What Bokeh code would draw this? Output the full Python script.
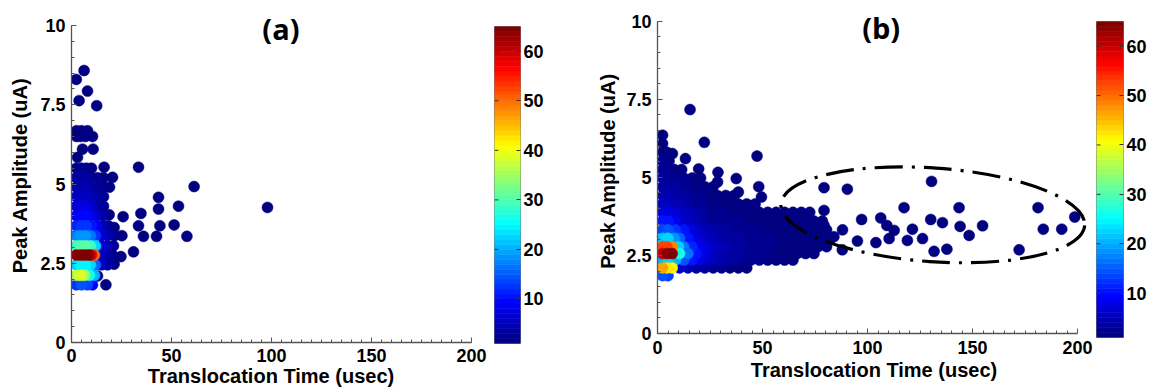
from bokeh.plotting import figure
from bokeh.models import (ColumnDataSource, LinearColorMapper, FixedTicker,
                          Range1d, Label, Spacer, Div)
from bokeh.layouts import row, column
from bokeh.embed import file_html
from bokeh.resources import INLINE

# ---------------- data: panel (a) ----------------
# dense core, row by row (amplitude level, times, local point density)
a_rows_y = [1.82, 2.12, 2.45, 2.76, 3.05, 3.37, 3.68, 4.0, 4.3, 4.6, 4.9, 5.2, 5.5]
a_rows_x = [
    [2.4, 5.0, 8.0, 10.5],
    [2.4, 4.5, 6.5, 9.0, 11.5],
    [2.4, 4.5, 7.0, 9.5, 12.0, 15.0, 18.0],
    [2.4, 4.5, 6.5, 8.5, 10.0, 11.5, 14.5, 17.5, 20.5],
    [2.4, 4.5, 7.0, 9.5, 12.0, 15.0, 18.0, 21.0],
    [2.4, 4.5, 7.0, 9.5, 12.0, 15.0, 18.0, 21.5],
    [2.4, 5.0, 7.5, 10.0, 12.5, 15.5, 18.5],
    [2.4, 5.0, 7.5, 10.0, 13.0, 16.0],
    [2.4, 5.0, 7.5, 10.0, 13.0, 16.0],
    [2.4, 5.0, 7.5, 10.0, 13.0, 16.0],
    [2.4, 5.0, 7.5, 10.0, 13.0, 16.0, 19.0],
    [2.4, 5.0, 7.5, 10.0, 13.0, 16.0],
    [2.4, 5.0, 7.5, 10.0],
]
a_rows_c = [
    [12, 14, 13, 9],
    [36, 38, 35, 26, 20],
    [22, 24, 24, 22, 15, 5, 3],
    [63, 65, 65, 64, 58, 50, 5, 3, 2],
    [28, 30, 30, 28, 22, 6, 4, 2],
    [17, 18, 18, 16, 12, 6, 4, 2],
    [11, 12, 12, 10, 8, 4, 2],
    [8, 9, 9, 7, 5, 3],
    [6, 7, 7, 5, 3, 2],
    [5, 5, 5, 4, 3, 2],
    [4, 4, 4, 3, 2, 2, 1],
    [3, 3, 3, 2, 2, 1],
    [2, 2, 2, 1],
]
# isolated events
a_sparse_x = [6.3, 2.4, 8.0, 3.8, 12.6, 2.5, 5.0, 8.0, 2.5, 4.5, 7.0, 10.5, 5.5, 10.8,
              3.0, 16.3, 33.5, 20.5, 61.3, 43.5, 53.5, 43.5, 98.0, 34.7, 25.8, 18.8,
              44.2, 51.3, 33.5, 36.0, 42.5, 57.7, 25.2, 21.3, 31.0, 24.7, 21.3, 17.2, 13.0]
a_sparse_y = [8.58, 8.30, 7.93, 7.63, 7.47, 6.68, 6.68, 6.68, 6.50, 6.50, 6.50, 6.50, 6.10, 6.10,
              5.84, 5.53, 5.53, 5.21, 4.92, 4.58, 4.30, 4.21, 4.26, 4.07, 3.97, 4.03,
              3.68, 3.71, 3.68, 3.35, 3.35, 3.35, 3.37, 3.63, 2.86, 2.71, 2.47, 1.82, 2.10]
a_sparse_c = [1, 1, 1, 1, 1, 1, 1, 1, 1, 1, 1, 1, 1, 1,
              1, 1, 1, 1, 1, 1, 1, 1, 1, 1, 1, 1,
              1, 1, 1, 1, 1, 1, 1, 1, 1, 1, 1, 1, 1]

# ---------------- data: panel (b) ----------------
b_rows_y = [1.85, 2.1, 2.35, 2.56, 2.78, 3.05, 3.32, 3.6, 3.88, 4.15, 4.42, 4.7,
            4.98, 5.25, 5.52, 5.8, 6.08, 6.35]
b_rows_x = [
    [2.4, 5.0],
    [2.4, 4.5, 7.0, 10.5, 14.5, 18.5, 22.5, 26.5, 30.5, 34.5, 38.5, 42.5],
    [2.4, 5.0, 8.5, 12.5, 16.5, 20.5, 24.5, 28.5, 32.5, 36.5, 40.5, 44.5, 48.5, 52.5,
     56.5, 60.5, 64.5],
    [2.4, 4.5, 7.0, 10.5, 14.5, 18.5, 22.5, 26.5, 30.5, 34.5, 38.5, 42.5, 46.5, 50.5,
     54.5, 58.5, 62.5, 66.5, 70.5, 74.5],
    [2.4, 4.5, 7.0, 10.0, 12.5, 16.5, 20.5, 24.5, 28.5, 32.5, 36.5, 40.5, 44.5, 48.5,
     52.5, 56.5, 60.5, 64.5, 68.5, 72.5, 76.5, 80.5],
    [2.4, 5.0, 8.0, 10.5, 14.5, 18.5, 22.5, 26.5, 30.5, 34.5, 38.5, 42.5, 46.5, 50.5,
     54.5, 58.5, 62.5, 66.5, 70.5, 74.5, 78.5, 82.5],
    [2.4, 5.0, 8.5, 12.5, 16.5, 20.5, 24.5, 28.5, 32.5, 36.5, 40.5, 44.5, 48.5, 52.5,
     56.5, 60.5, 64.5, 68.5, 72.5, 76.5, 80.5],
    [2.4, 5.0, 8.0, 10.5, 14.5, 18.5, 22.5, 26.5, 30.5, 34.5, 38.5, 42.5, 46.5, 50.5,
     54.5, 58.5, 62.5, 66.5, 70.5, 74.5, 78.5],
    [2.4, 5.0, 8.5, 12.5, 16.5, 20.5, 24.5, 28.5, 32.5, 36.5, 40.5, 44.5, 48.5, 52.5,
     56.5, 60.5, 64.5, 68.5, 72.5],
    [2.4, 5.0, 8.0, 10.5, 14.5, 18.5, 22.5, 26.5, 30.5, 34.5, 38.5, 42.5, 46.5],
    [2.4, 5.0, 8.5, 12.5, 16.5, 20.5, 24.5, 28.5, 32.5, 36.5],
    [2.4, 5.0, 8.0, 10.5, 14.5, 18.5, 22.5, 26.5],
    [2.4, 5.0, 8.5, 12.5, 16.5, 20.5],
    [2.4, 5.0, 8.0, 11.5],
    [2.4, 5.5],
    [2.4, 4.5],
    [2.4],
    [2.4],
]
b_rows_c = [
    [14, 13],
    [46, 42, 41, 6, 4, 3, 3, 2, 2, 1, 1, 1],
    [20, 22, 20, 14, 10, 7, 5, 4, 3, 3, 2, 2, 2, 1, 1, 1, 1],
    [60, 63, 65, 26, 16, 10, 7, 5, 4, 3, 3, 2, 2, 2, 1, 1, 1, 1, 1, 1],
    [52, 52, 48, 22, 16, 11, 8, 6, 5, 4, 3, 3, 2, 2, 2, 1, 1, 1, 1, 1, 1, 1],
    [21, 22, 18, 15, 10, 7, 5, 4, 3, 3, 3, 2, 2, 2, 2, 1, 1, 1, 1, 1, 1, 1],
    [13, 14, 12, 10, 7, 5, 4, 3, 3, 2, 2, 2, 2, 1, 1, 1, 1, 1, 1, 1, 1],
    [10, 10, 8, 6, 5, 4, 3, 2, 2, 2, 2, 1, 1, 1, 1, 1, 1, 1, 1, 1, 1],
    [7, 7, 6, 5, 4, 3, 2, 2, 2, 1, 1, 1, 1, 1, 1, 1, 1, 1, 1],
    [5, 5, 4, 4, 3, 2, 2, 1, 1, 1, 1, 1, 1],
    [4, 4, 3, 3, 2, 2, 1, 1, 1, 1],
    [3, 3, 3, 2, 2, 1, 1, 1],
    [3, 2, 2, 2, 1, 1],
    [2, 2, 1, 1],
    [2, 1],
    [1, 1],
    [1],
    [1],
]
b_sparse_x = [15.5, 22.3, 47.4, 13.3, 7.1, 19.6, 28.8, 37.5, 28.6, 48.2, 38.5, 49.5, 26.2,
              18.2, 12.7, 8.0, 34.9, 41.3, 23.8,
              79.3, 90.4, 130.5, 117.4, 143.6, 181.2, 198.7, 97.2, 106.3, 130.1, 135.7,
              144.1, 154.8, 183.7, 192.5, 109.2, 112.7, 121.4, 148.4, 88.1, 110.3, 119.0,
              126.2, 104.0, 95.2, 137.8, 131.7, 172.2, 79.3, 88.0, 79.3, 84.0]
b_sparse_y = [7.17, 6.12, 5.68, 5.60, 5.76, 5.27, 5.16, 4.96, 4.85, 4.70, 4.53, 4.37, 4.48,
              4.58, 4.80, 5.00, 4.18, 4.00, 4.29,
              4.67, 4.62, 4.87, 4.03, 4.03, 4.03, 3.73, 3.65, 3.70, 3.65, 3.55,
              3.43, 3.45, 3.34, 3.34, 3.46, 3.30, 3.34, 3.14, 3.32, 3.04, 2.98,
              3.04, 2.91, 2.96, 2.70, 2.63, 2.68, 3.94, 2.68, 3.46, 3.10]
b_sparse_c = [1, 1, 1, 1, 1, 1, 1, 1, 1, 1, 1, 1, 1,
              1, 1, 1, 1, 1, 1,
              1, 1, 1, 1, 1, 1, 1, 1, 1, 1, 1,
              1, 1, 1, 1, 1, 1, 1, 1, 1, 1, 1,
              1, 1, 1, 1, 1, 1, 1, 1, 1, 1]

# highlighted region in (b): centre, full width/height (data units), tilt
b_ellipse_x = [131.1]
b_ellipse_y = [3.8]
b_ellipse_w = [145.0]
b_ellipse_h = [3.0]
b_ellipse_angle = [-0.07]

x_ticks = [0, 50, 100, 150, 200]
y_ticks = [0, 2.5, 5, 7.5, 10]
y_tick_labels = ["0", "2.5", "5", "7.5", "10"]
cbar_ticks = [10, 20, 30, 40, 50, 60]
c_low, c_high = 1, 65
n_colors = 64
X_LABEL = "Translocation Time (usec)"
Y_LABEL = "Peak Amplitude (uA)"

H = 387          # canvas height
TOP = 8          # frames start 8 px below the canvas top (room for the panel tags)


def jet(n=64):
    cols = []
    for i in range(n):
        t = i / (n - 1)
        r = min(max(1.5 - abs(4 * t - 3), 0), 1)
        g = min(max(1.5 - abs(4 * t - 2), 0), 1)
        b = min(max(1.5 - abs(4 * t - 1), 0), 1)
        cols.append("#%02x%02x%02x" % (round(r * 255), round(g * 255), round(b * 255)))
    return cols


PALETTE = jet(n_colors)


def build_source(rows_y, rows_x, rows_c, sx, sy, sc):
    pts = []
    for yv, xs, cs in zip(rows_y, rows_x, rows_c):
        assert len(xs) == len(cs)
        for xv, cv in zip(xs, cs):
            pts.append((cv, xv, yv))
    assert len(sx) == len(sy) == len(sc)
    for xv, yv, cv in zip(sx, sy, sc):
        pts.append((cv, xv, yv))
    pts.sort(key=lambda t: t[0])
    return ColumnDataSource(dict(x=[p[1] for p in pts], y=[p[2] for p in pts],
                                 c=[p[0] for p in pts]))


mapper = LinearColorMapper(palette=PALETTE, low=c_low, high=c_high)
FONT = "Liberation Sans"
AX = "#555555"


def style_axis(ax, label_size):
    ax.axis_line_color = AX
    ax.axis_line_width = 1.3
    ax.major_tick_line_color = AX
    ax.minor_tick_line_color = AX
    ax.major_tick_in = 5
    ax.major_tick_out = 0
    ax.minor_tick_in = 3
    ax.minor_tick_out = 0
    ax.major_label_text_font = FONT
    ax.major_label_text_font_style = "bold"
    ax.major_label_text_font_size = "18px"
    ax.major_label_text_color = "black"
    ax.axis_label_text_font = FONT
    ax.axis_label_text_font_style = "bold"
    ax.axis_label_text_font_size = label_size
    ax.axis_label_text_color = "black"


def make_panel(src, width, height, left, right, y10_px, y0_px, xend, tag, tag_xy,
               x_std, y_lab_std, with_x_label, x_lab_std=0):
    # y range reaches above 10 so the panel tag is inside the frame;
    # the y axis itself is bounded to 0..10
    ppu = (y0_px - y10_px) / 10.0
    y_end = 10 + (y10_px - TOP) / ppu
    p = figure(width=width, height=height, x_range=Range1d(0, xend),
               y_range=Range1d(0, y_end), output_backend="svg",
               toolbar_location=None, min_border_left=left, min_border_top=TOP,
               min_border_right=right, min_border_bottom=round(height - y0_px))
    p.outline_line_color = None
    p.xgrid.visible = False
    p.ygrid.visible = False
    p.scatter("x", "y", source=src, size=11, marker="circle",
              fill_color={"field": "c", "transform": mapper},
              line_color={"field": "c", "transform": mapper}, line_width=0.5)

    p.xaxis.ticker = FixedTicker(ticks=x_ticks, minor_ticks=list(range(0, 201, 5)))
    p.yaxis.ticker = FixedTicker(ticks=y_ticks, minor_ticks=[i * 0.5 for i in range(21)])
    p.yaxis.major_label_overrides = {t: l for t, l in zip(y_ticks, y_tick_labels)}
    p.xaxis.bounds = (0, 200)
    p.yaxis.bounds = (0, 10)
    if with_x_label:
        p.xaxis.axis_label = X_LABEL
    p.yaxis.axis_label = Y_LABEL
    style_axis(p.xaxis[0], "20px")
    style_axis(p.yaxis[0], "20px")
    p.xaxis.major_label_standoff = x_std
    p.xaxis.axis_label_standoff = x_lab_std
    p.yaxis.major_label_standoff = 6
    p.yaxis.axis_label_standoff = y_lab_std

    p.add_layout(Label(x=tag_xy[0], y=tag_xy[1], text=tag, text_font="Open Sans",
                       text_font_style="bold", text_font_size="29px",
                       text_align="center", text_baseline="middle",
                       text_color="black"))
    return p


def make_cbar(width, top, fw, fh):
    cbp = figure(width=width, height=H, x_range=Range1d(0, 1),
                 y_range=Range1d(c_low, c_high), x_axis_location=None,
                 y_axis_location="right", output_backend="svg", toolbar_location=None,
                 min_border_left=0, min_border_right=width - fw, min_border_top=top,
                 min_border_bottom=H - top - fh)
    step = (c_high - c_low) / n_colors
    bottoms = [c_low + i * step for i in range(n_colors)]
    tops = [c_low + (i + 1) * step for i in range(n_colors)]
    cbp.quad(left=0, right=1, bottom=bottoms, top=tops, fill_color=PALETTE,
             line_color=PALETTE, line_width=0.6)
    # tick marks on the left edge of the bar as well
    cbp.segment(x0=0, x1=0.15, y0=cbar_ticks, y1=cbar_ticks, line_color="#333333",
                line_width=1)
    cbp.xgrid.visible = False
    cbp.ygrid.visible = False
    cbp.outline_line_color = "#7f7f7f"
    cbp.outline_line_width = 1
    ax = cbp.yaxis[0]
    ax.ticker = FixedTicker(ticks=cbar_ticks)
    ax.axis_line_color = None
    ax.major_tick_line_color = "#333333"
    ax.major_tick_in = 4
    ax.major_tick_out = 0
    ax.minor_tick_line_color = None
    ax.major_label_standoff = 3
    ax.major_label_text_font = FONT
    ax.major_label_text_font_style = "bold"
    ax.major_label_text_font_size = "18px"
    ax.major_label_text_color = "black"
    return cbp


src_a = build_source(a_rows_y, a_rows_x, a_rows_c, a_sparse_x, a_sparse_y, a_sparse_c)
src_b = build_source(b_rows_y, b_rows_x, b_rows_c, b_sparse_x, b_sparse_y, b_sparse_c)

# panel (a): plot canvas 371 px tall, its axis title in a 16 px strip below it
pa = make_panel(src_a, 494, 371, 71, 23, 25, 342, 200, "(a)", (104.7, 9.92),
                6, 6, with_x_label=False)
xa = Div(text=("<div style=\"display:block;width:400px;"
               "font-family:'Liberation Sans',Arial,sans-serif;"
               "font-weight:bold;font-size:20px;line-height:16px;text-align:center;"
               "white-space:nowrap;position:relative;top:-3px;color:black;\">"
               + X_LABEL + "</div>"),
         width=400, height=16, margin=0,
         styles={"overflow": "visible", "text-align": "center", "width": "400px"})
ca = make_cbar(96, 26, 26, 317)
pb = make_panel(src_b, 506, H, 67, 6, 20.7, 333.3, 433 / 2.1, "(b)", (106.5, 9.81),
                7, 4, with_x_label=True, x_lab_std=2)
cb = make_cbar(58, 21, 27, 316)

pb.ellipse(x=b_ellipse_x, y=b_ellipse_y, width=b_ellipse_w, height=b_ellipse_h,
           angle=b_ellipse_angle, fill_color=None, line_color="black",
           line_width=3.2, line_dash="28 9 3 9")

# each plot in its own column so the row does not align their frames
layout = row(column(pa, row(Spacer(width=71, height=16), xa)),
             column(ca), column(pb), column(cb))
open("out.html", "w").write(file_html(layout, INLINE))
